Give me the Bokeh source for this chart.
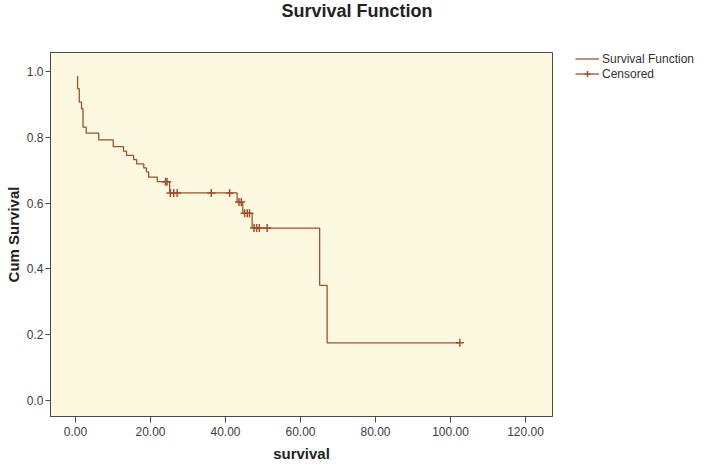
from bokeh.plotting import figure
from bokeh.models import Range1d, FixedTicker, PrintfTickFormatter, Legend, LegendItem, Title
from bokeh.embed import file_html
from bokeh.resources import INLINE

# ---- data (Kaplan-Meier step curve) ----
event_times = [0.40, 0.55, 1.00, 1.60, 2.00, 2.85, 6.20, 10.05, 12.80, 13.60, 15.50,
               16.30, 18.20, 18.90, 19.50, 21.80, 25.10, 43.10, 44.60, 47.10, 65.10, 67.10]
surv_levels = [0.985, 0.948, 0.907, 0.887, 0.831, 0.813, 0.792, 0.772, 0.758, 0.745, 0.732,
               0.719, 0.707, 0.695, 0.679, 0.665, 0.631, 0.603, 0.569, 0.524, 0.350, 0.175]
end_time = 102.5

censor_times = [24.0, 24.4, 25.3, 26.2, 27.1, 36.2, 41.1, 43.6, 44.2, 45.1, 45.8, 46.4,
                47.6, 48.3, 49.0, 51.1, 102.5]
censor_surv = [0.665, 0.665, 0.631, 0.631, 0.631, 0.631, 0.631, 0.603, 0.603, 0.569, 0.569, 0.569,
               0.524, 0.524, 0.524, 0.524, 0.175]

x_ticks = [0, 20, 40, 60, 80, 100, 120]
y_ticks = [0.0, 0.2, 0.4, 0.6, 0.8, 1.0]

LINE = "#a0502c"
FONT = "Liberation Sans"

FRAME_W, FRAME_H = 502, 364

p = figure(frame_width=FRAME_W, frame_height=FRAME_H,
           output_backend="svg", toolbar_location=None,
           x_range=Range1d(-6.67, 127.2), y_range=Range1d(-0.049, 1.058),
           min_border_left=50, min_border_right=153, min_border_top=0, min_border_bottom=47,
           background_fill_color="#fdf9e1", border_fill_color="white")

# real title (outermost), blank spacer title between it and the frame
p.title = Title(text="Survival Function", align="left", offset=231,
                text_font=FONT, text_font_size="18px", text_font_style="bold",
                text_color="#222222", standoff=0, vertical_align="top")
p.add_layout(Title(text=" ", text_font=FONT, text_font_size="12px", standoff=14), "above")

p.xgrid.visible = False
p.ygrid.visible = False
p.outline_line_color = "#4a4a4a"
p.outline_line_width = 1

for ax in (p.xaxis[0], p.yaxis[0]):
    ax.axis_line_color = "#4a4a4a"
    ax.major_tick_line_color = "#4a4a4a"
    ax.major_tick_in = 0
    ax.minor_tick_line_color = None
    ax.major_label_text_font = FONT
    ax.major_label_text_font_size = "12px"
    ax.major_label_text_color = "#3c3c3c"
    ax.axis_label_text_font = FONT
    ax.axis_label_text_font_size = "15px"
    ax.axis_label_text_font_style = "bold"
    ax.axis_label_text_color = "#222222"

p.yaxis[0].major_tick_out = 5
p.yaxis[0].major_label_standoff = 2
p.yaxis[0].axis_label_standoff = 2
p.xaxis[0].major_tick_out = 6
p.xaxis[0].major_label_standoff = 4
p.xaxis[0].axis_label_standoff = 6

p.xaxis[0].ticker = FixedTicker(ticks=x_ticks)
p.xaxis[0].formatter = PrintfTickFormatter(format="%.2f")
p.xaxis[0].axis_label = "survival"
p.yaxis[0].ticker = FixedTicker(ticks=y_ticks)
p.yaxis[0].formatter = PrintfTickFormatter(format="%.1f")
p.yaxis[0].axis_label = "Cum Survival"

xs = event_times + [end_time]
ys = surv_levels + [surv_levels[-1]]
step_r = p.step(x=xs, y=ys, mode="after", line_color=LINE, line_width=1.3)
cross_r = p.scatter(x=censor_times, y=censor_surv, marker="cross", size=8,
                    line_color=LINE, line_width=1.5)

legend = Legend(items=[LegendItem(label="Survival Function", renderers=[step_r]),
                       LegendItem(label="Censored", renderers=[step_r, cross_r])],
                location=(23, FRAME_H - 30 + 1), orientation="vertical",
                margin=0, padding=0, spacing=0,
                glyph_width=24, glyph_height=15, label_height=15, label_standoff=3,
                label_text_font=FONT, label_text_font_size="12px", label_text_color="#333333",
                border_line_alpha=0, background_fill_alpha=0)
p.add_layout(legend, "right")

open("out.html", "w").write(file_html(p, INLINE))
